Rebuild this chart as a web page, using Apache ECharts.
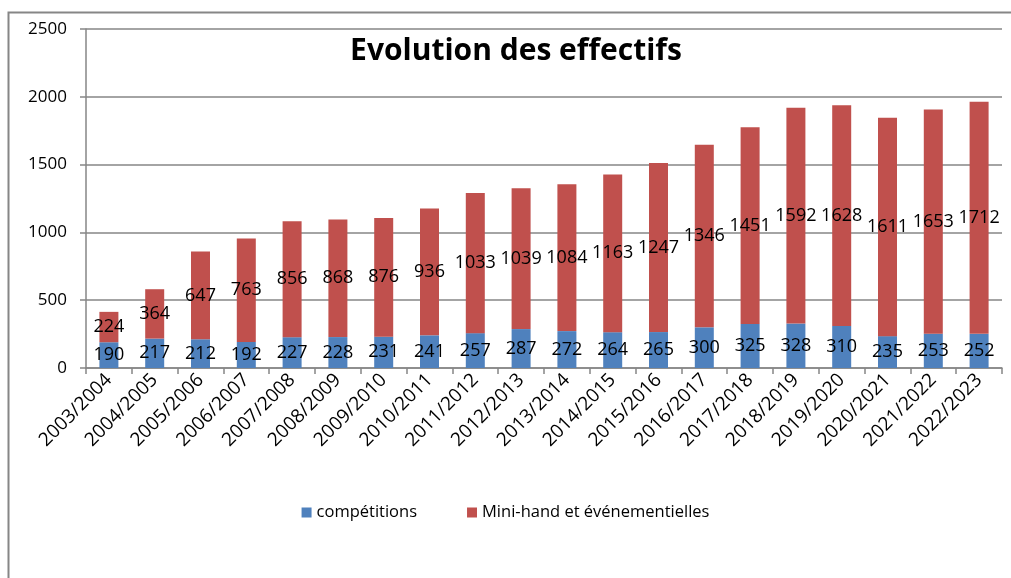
<!DOCTYPE html>
<html><head><meta charset="utf-8">
<script src="https://cdn.jsdelivr.net/npm/echarts@6/dist/echarts.min.js"></script>
<style>html,body{margin:0;padding:0;background:#fff}#c{width:1011px;height:578px}</style>
</head><body><div id="c"></div>
<script>
const categories = ['2003/2004','2004/2005','2005/2006','2006/2007','2007/2008','2008/2009','2009/2010','2010/2011','2011/2012','2012/2013','2013/2014','2014/2015','2015/2016','2016/2017','2017/2018','2018/2019','2019/2020','2020/2021','2021/2022','2022/2023'];
const competitions = [190,217,212,192,227,228,231,241,257,287,272,264,265,300,325,328,310,235,253,252];
const miniHand = [224,364,647,763,856,868,876,936,1033,1039,1084,1163,1247,1346,1451,1592,1628,1611,1653,1712];
const yTicks = [0,500,1000,1500,2000,2500];

const FONT = 'Open Sans';
const chart = echarts.init(document.getElementById('c'), null, {renderer:'canvas'});
const labelStyle = {show:true, position:'inside', color:'#000', fontSize:18, fontFamily:FONT};
chart.setOption({
  animation:false,
  textStyle:{fontFamily:FONT},
  graphic:[{type:'rect', shape:{x:8.5,y:12.5,width:1100,height:700}, style:{fill:'none', stroke:'#868686', lineWidth:2}, z:-1}],
  title:{text:'Evolution des effectifs', left:511, textAlign:'center', top:31,
    textStyle:{fontFamily:FONT, fontWeight:'bold', fontSize:30, color:'#000'}},
  legend:{bottom:52, left:'center', itemWidth:10, itemHeight:10, itemGap:50,
    icon:'rect', textStyle:{fontFamily:FONT, fontSize:16.5, color:'#000'},
    data:['compétitions','Mini-hand et événementielles']},
  grid:{left:86, right:9, top:29, bottom:210, containLabel:false},
  xAxis:{type:'category', data:categories,
    axisLine:{lineStyle:{color:'#868686', width:1.5}},
    axisTick:{show:true, alignWithLabel:false, length:6, lineStyle:{color:'#868686', width:1.5}},
    axisLabel:{rotate:45, fontSize:19, color:'#000', fontFamily:FONT, margin:9, interval:0}},
  yAxis:{type:'value', min:yTicks[0], max:yTicks[yTicks.length-1], interval:500,
    axisLine:{show:true, lineStyle:{color:'#868686', width:1.5}},
    axisTick:{show:true, length:6, lineStyle:{color:'#868686', width:1.5}},
    splitLine:{lineStyle:{color:'#868686', width:1.5}},
    axisLabel:{fontSize:17, color:'#000', fontFamily:FONT, margin:19, formatter:v=>String(v)}},
  series:[
    {name:'compétitions', type:'bar', stack:'t', data:competitions, barWidth:19,
      itemStyle:{color:'#4F81BD'}, label:labelStyle},
    {name:'Mini-hand et événementielles', type:'bar', stack:'t', data:miniHand, barWidth:19,
      itemStyle:{color:'#C0504D'}, label:labelStyle}
  ]
});
</script></body></html>
